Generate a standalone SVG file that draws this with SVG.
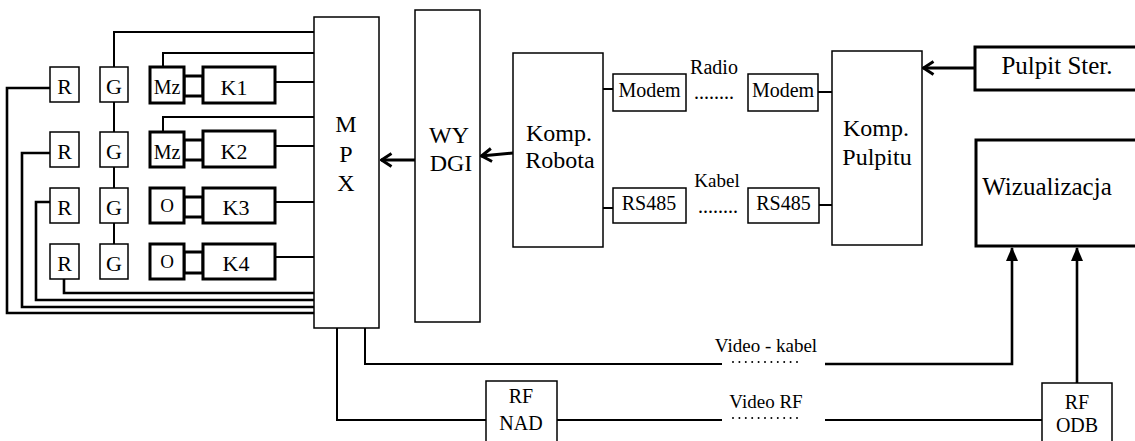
<svg xmlns="http://www.w3.org/2000/svg" width="1135" height="441" viewBox="0 0 1135 441" font-family="'Liberation Serif', 'DejaVu Serif', serif">
<style>
text{font-family:'Liberation Serif','DejaVu Serif',serif;fill:#000;text-anchor:middle}
.thin{fill:#fff;stroke:#000;stroke-width:1.5}
.thick{fill:#fff;stroke:#000;stroke-width:3}
.w{fill:none;stroke:#000;stroke-width:2}
.b{fill:none;stroke:#000;stroke-width:2.6}
.a{fill:none;stroke:#000;stroke-width:3}
.dots{fill:none;stroke:#000;stroke-width:2;stroke-linecap:round;stroke-dasharray:0 6.4}
.f22{font-size:22px}
.f20{font-size:20px}
.f24{font-size:24px}
.f25{font-size:25px}
.f19{font-size:19px}
</style>
<defs>
<marker id="chev" markerUnits="userSpaceOnUse" markerWidth="14" markerHeight="16" refX="12.5" refY="8" orient="auto" viewBox="0 0 14 16">
<path d="M2 1.5 L12 8 L2 14.5" fill="none" stroke="#000" stroke-width="3"/>
</marker>
<marker id="tri" markerUnits="userSpaceOnUse" markerWidth="14" markerHeight="14" refX="13" refY="7" orient="auto" viewBox="0 0 14 14">
<path d="M0 1 L14 7 L0 13 Z" fill="#000"/>
</marker>
</defs>
<rect width="1135" height="441" fill="#fff"/>

<g id="connectors">
<polyline class="w" points="114,67 114,32 314,32"/>
<line class="w" x1="114" y1="102" x2="114" y2="132"/>
<line class="w" x1="114" y1="167" x2="114" y2="188"/>
<line class="w" x1="114" y1="223" x2="114" y2="244"/>
<polyline class="w" points="163,67 163,53 314,53"/>
<polyline class="w" points="163,132 163,117 314,117"/>
<line class="w" x1="275" y1="82" x2="314" y2="82"/>
<line class="w" x1="275" y1="146" x2="314" y2="146"/>
<line class="w" x1="275" y1="202" x2="314" y2="202"/>
<line class="w" x1="275" y1="257" x2="314" y2="257"/>
<polyline class="b" points="50,88 7,88 7,313 314,313"/>
<polyline class="b" points="50,153 22,153 22,307 314,307"/>
<polyline class="b" points="50,202 36,202 36,300 314,300"/>
<polyline class="b" points="64,279 64,293 314,293"/>
<line class="a" x1="415" y1="160" x2="381" y2="160" marker-end="url(#chev)"/>
<line class="a" x1="513" y1="153" x2="481" y2="156" marker-end="url(#chev)"/>
<line class="a" x1="975" y1="68" x2="923" y2="68" marker-end="url(#chev)"/>
<line class="w" x1="603" y1="89" x2="613" y2="89"/>
<line class="w" x1="818" y1="92" x2="832" y2="92"/>
<line class="w" x1="603" y1="208" x2="613" y2="208"/>
<line class="w" x1="819" y1="205" x2="832" y2="205"/>
<polyline class="w" points="365,328 365,364 722,364"/>
<polyline class="b" points="825,364 1012,364 1012,248" marker-end="url(#tri)"/>
<polyline class="w" points="337,328 337,420 486,420"/>
<line class="w" x1="557" y1="420" x2="722" y2="420"/>
<line class="w" x1="825" y1="420" x2="1042" y2="420"/>
<line class="b" x1="1077" y1="383" x2="1077" y2="248" marker-end="url(#tri)"/>
<line class="dots" x1="733" y1="362" x2="803" y2="362"/>
<line class="dots" x1="733" y1="418" x2="803" y2="418"/>
</g>

<g id="R1"><rect class="thin" x="50" y="67" width="29" height="35"/><text class="f22" x="64.5" y="94">R</text></g>
<g id="G1"><rect class="thin" x="100" y="67" width="28" height="35"/><text class="f22" x="114" y="94">G</text></g>
<g id="Mz1"><rect class="thick" x="184" y="76" width="19" height="20"/><rect class="thick" x="150" y="67" width="34" height="36"/><text class="f20" x="167" y="94">Mz</text></g>
<g id="K1"><rect class="thick" x="203" y="67" width="72" height="36"/><text class="f22" x="234" y="95">K1</text></g>

<g id="R2"><rect class="thin" x="50" y="132" width="29" height="35"/><text class="f22" x="64.5" y="159">R</text></g>
<g id="G2"><rect class="thin" x="100" y="132" width="28" height="35"/><text class="f22" x="114" y="159">G</text></g>
<g id="Mz2"><rect class="thick" x="184" y="140" width="19" height="20"/><rect class="thick" x="150" y="132" width="34" height="35"/><text class="f20" x="167" y="159">Mz</text></g>
<g id="K2"><rect class="thick" x="203" y="131" width="72" height="36"/><text class="f22" x="234" y="159">K2</text></g>

<g id="R3"><rect class="thin" x="50" y="188" width="29" height="35"/><text class="f22" x="64.5" y="215">R</text></g>
<g id="G3"><rect class="thin" x="100" y="188" width="28" height="35"/><text class="f22" x="114" y="215">G</text></g>
<g id="O3"><rect class="thick" x="184" y="197" width="19" height="20"/><rect class="thick" x="150" y="188" width="34" height="35"/><text class="f19" x="167" y="212">O</text></g>
<g id="K3"><rect class="thick" x="203" y="188" width="72" height="35"/><text class="f22" x="236" y="215">K3</text></g>

<g id="R4"><rect class="thin" x="50" y="244" width="29" height="35"/><text class="f22" x="64.5" y="271">R</text></g>
<g id="G4"><rect class="thin" x="100" y="244" width="28" height="35"/><text class="f22" x="114" y="271">G</text></g>
<g id="O4"><rect class="thick" x="184" y="252" width="19" height="21"/><rect class="thick" x="150" y="244" width="34" height="35"/><text class="f19" x="167" y="268">O</text></g>
<g id="K4"><rect class="thick" x="203" y="244" width="72" height="35"/><text class="f22" x="236" y="271">K4</text></g>

<g id="MPX"><rect class="thin" x="314" y="17" width="65" height="311"/>
<text class="f24" x="346" y="132">M</text><text class="f24" x="346" y="162">P</text><text class="f24" x="346" y="191">X</text></g>

<g id="WYDGI"><rect class="thin" x="415" y="10" width="65" height="312"/>
<text class="f24" x="449" y="143">WY</text><text class="f24" x="451" y="171">DGI</text></g>

<g id="KompRobota"><rect class="thin" x="513" y="53" width="90" height="194"/>
<text class="f24" x="559" y="141">Komp.</text><text class="f24" x="560" y="168">Robota</text></g>

<g id="Modem1"><rect class="thin" x="613" y="74" width="73" height="37"/><text class="f20" x="649.5" y="97">Modem</text></g>
<g id="Modem2"><rect class="thin" x="748" y="74" width="70" height="37"/><text class="f20" x="783" y="97">Modem</text></g>
<g id="RS485a"><rect class="thin" x="613" y="188" width="73" height="35"/><text class="f20" x="649" y="210">RS485</text></g>
<g id="RS485b"><rect class="thin" x="748" y="188" width="71" height="35"/><text class="f20" x="783.5" y="210">RS485</text></g>

<g id="labels">
<text class="f20" x="714" y="74">Radio</text>
<text class="f20" x="714" y="99">........</text>
<text class="f19" x="717" y="187">Kabel</text>
<text class="f20" x="718" y="213">........</text>
<text class="f19" x="766" y="352">Video - kabel</text>
<text class="f19" x="766" y="408">Video RF</text>
</g>

<g id="KompPulpitu"><rect class="thin" x="832" y="51" width="90" height="194"/>
<text class="f24" x="876" y="136">Komp.</text><text class="f24" x="877" y="165">Pulpitu</text></g>

<g id="PulpitSter"><rect class="thick" x="975" y="47" width="170" height="43"/><text class="f25" x="1057" y="74">Pulpit Ster.</text></g>

<g id="Wizualizacja"><rect class="thick" x="976" y="140" width="170" height="106"/><text class="f25" x="1047" y="195">Wizualizacja</text></g>

<g id="RFNAD"><rect class="thin" x="486" y="381" width="71" height="70"/>
<text class="f20" x="521" y="403">RF</text><text class="f20" x="521" y="430">NAD</text></g>

<g id="RFODB"><rect class="thin" x="1042" y="383" width="70" height="70"/>
<text class="f20" x="1077" y="409">RF</text><text class="f20" x="1077" y="432">ODB</text></g>
</svg>
